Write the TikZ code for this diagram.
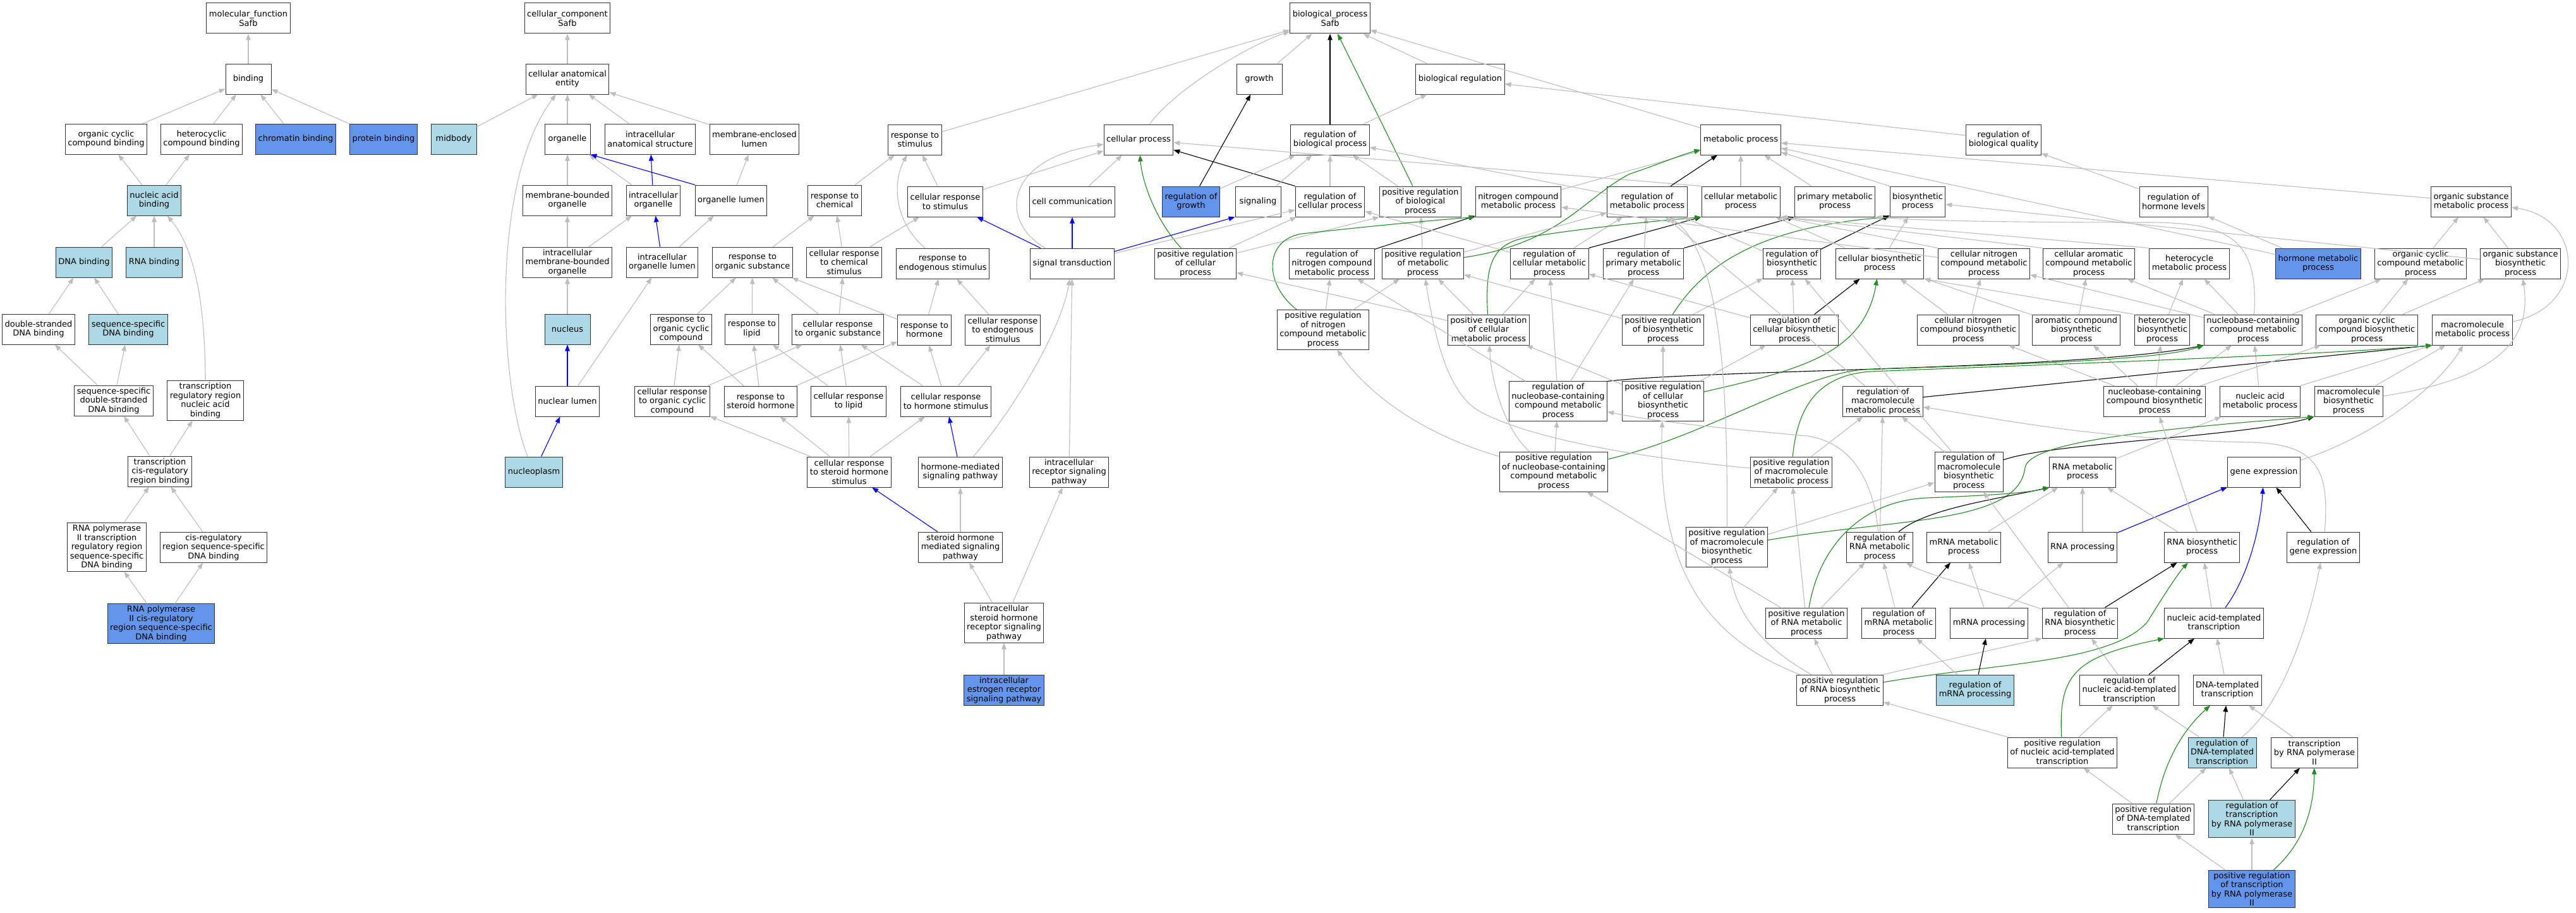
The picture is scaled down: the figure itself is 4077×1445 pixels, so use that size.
\documentclass[tikz,border=0pt]{standalone}
\usepackage{fontspec}
\setmainfont{DejaVu Sans}
\usetikzlibrary{arrows.meta}
\definecolor{isagray}{HTML}{BEBEBE}
\definecolor{posgreen}{HTML}{228B22}
\definecolor{lightblue}{HTML}{ADD8E6}
\definecolor{cornflower}{HTML}{6495ED}
\begin{document}
\begin{tikzpicture}[x=1pt, y=-1pt,
    font=\fontsize{13}{14.5}\selectfont,
    term/.style={draw=black!80, line width=1pt, fill=white, align=center,
        minimum width=72pt, minimum height=48pt, inner xsep=4pt, inner ysep=3pt},
    termlight/.style={term, fill=lightblue},
    termdark/.style={term, fill=cornflower},
    goedge/.style={line width=1.1pt, -{Triangle[length=10pt,width=7.5pt]}},
    isa/.style={goedge, draw=isagray},
    reg/.style={goedge, draw=black},
    partof/.style={goedge, draw=blue},
    posreg/.style={goedge, draw=posgreen}]
    \path[use as bounding box, fill=white] (0,0) rectangle (4077,1445);

    \node[term] (mf) at (393,29) {molecular\_function\\Safb};
    \node[term] (binding) at (393,125) {binding};
    \node[term] (occb) at (168,220) {organic cyclic\\compound binding};
    \node[term] (hcb) at (319,220) {heterocyclic\\compound binding};
    \node[termdark] (chromb) at (468,220) {chromatin binding};
    \node[termdark] (protb) at (607,220) {protein binding};
    \node[termlight] (nab) at (244,317) {nucleic acid\\binding};
    \node[termlight] (dnab) at (133,415) {DNA binding};
    \node[termlight] (rnab) at (244,415) {RNA binding};
    \node[term] (dsdnab) at (61,521) {double-stranded\\DNA binding};
    \node[termlight] (ssdnab) at (203,521) {sequence-specific\\DNA binding};
    \node[term] (ssdsb) at (180,634) {sequence-specific\\double-stranded\\DNA binding};
    \node[term] (trnab) at (325,634) {transcription\\regulatory region\\nucleic acid\\binding};
    \node[term] (tcrb) at (253,746) {transcription\\cis-regulatory\\region binding};
    \node[term] (rptrb) at (169,866) {RNA polymerase\\II transcription\\regulatory region\\sequence-specific\\DNA binding};
    \node[term] (crssb) at (338,866) {cis-regulatory\\region sequence-specific\\DNA binding};
    \node[termdark] (rpcrb) at (255,987) {RNA polymerase\\II cis-regulatory\\region sequence-specific\\DNA binding};

    \node[term] (cc) at (898,29) {cellular\_component\\Safb};
    \node[term] (cae) at (898,125) {cellular anatomical\\entity};
    \node[termlight] (midbody) at (718,220) {midbody};
    \node[term] (organelle) at (898,220) {organelle};
    \node[term] (ias) at (1029,220) {intracellular\\anatomical structure};
    \node[term] (mel) at (1194,220) {membrane-enclosed\\lumen};
    \node[term] (mbo) at (898,317) {membrane-bounded\\organelle};
    \node[term] (io) at (1034,317) {intracellular\\organelle};
    \node[term] (ol) at (1157,317) {organelle lumen};
    \node[term] (imbo) at (898,415) {intracellular\\membrane-bounded\\organelle};
    \node[term] (iol) at (1048,415) {intracellular\\organelle lumen};
    \node[termlight] (nucleus) at (898,521) {nucleus};
    \node[term] (nlumen) at (898,635) {nuclear lumen};
    \node[termlight] (nucleoplasm) at (845,747) {nucleoplasm};

    \node[term] (rtc) at (1321,317) {response to\\chemical};
    \node[term] (rtos) at (1191,415) {response to\\organic substance};
    \node[term] (crcs) at (1336,415) {cellular response\\to chemical\\stimulus};
    \node[term] (rtocc) at (1078,521) {response to\\organic cyclic\\compound};
    \node[term] (rtl) at (1190,521) {response to\\lipid};
    \node[term] (cros) at (1326,521) {cellular response\\to organic substance};
    \node[term] (crocc) at (1064,635) {cellular response\\to organic cyclic\\compound};
    \node[term] (rtsh) at (1204,635) {response to\\steroid hormone};
    \node[term] (crl) at (1343,635) {cellular response\\to lipid};
    \node[term] (crshs) at (1344,747) {cellular response\\to steroid hormone\\stimulus};
    \node[term] (rts) at (1448,221) {response to\\stimulus};
    \node[term] (cp) at (1802,221) {cellular process};
    \node[term] (growth) at (1993,125) {growth};
    \node[term] (bp) at (2105,29) {biological\_process\\Safb};
    \node[term] (crts) at (1496,319) {cellular response\\to stimulus};
    \node[term] (ccom) at (1697,319) {cell communication};
    \node[termdark] (rog) at (1885,319) {regulation of\\growth};
    \node[term] (signaling) at (1991,319) {signaling};
    \node[term] (rcp) at (2105,319) {regulation of\\cellular process};
    \node[term] (rtes) at (1492,417) {response to\\endogenous stimulus};
    \node[term] (st) at (1697,417) {signal transduction};
    \node[term] (prcp) at (1892,417) {positive regulation\\of cellular\\process};
    \node[term] (rth) at (1463,522) {response to\\hormone};
    \node[term] (cres) at (1587,522) {cellular response\\to endogenous\\stimulus};
    \node[term] (crhs) at (1497,635) {cellular response\\to hormone stimulus};
    \node[term] (hmsp) at (1520,747) {hormone-mediated\\signaling pathway};
    \node[term] (irsp) at (1692,747) {intracellular\\receptor signaling\\pathway};
    \node[term] (shmsp) at (1520,866) {steroid hormone\\mediated signaling\\pathway};
    \node[term] (ishrsp) at (1589,986) {intracellular\\steroid hormone\\receptor signaling\\pathway};
    \node[termdark] (iersp) at (1589,1092) {intracellular\\estrogen receptor\\signaling pathway};

    \node[term] (breg) at (2311,125) {biological regulation};
    \node[term] (rbp) at (2105,221) {regulation of\\biological process};
    \node[term] (mp) at (2755,221) {metabolic process};
    \node[term] (rbq) at (3171,221) {regulation of\\biological quality};
    \node[term] (prbp) at (2248,319) {positive regulation\\of biological\\process};
    \node[term] (ncmp) at (2403,319) {nitrogen compound\\metabolic process};
    \node[term] (rmp) at (2607,319) {regulation of\\metabolic process};
    \node[term] (cmp) at (2755,319) {cellular metabolic\\process};
    \node[term] (pmp) at (2904,319) {primary metabolic\\process};
    \node[term] (bsp) at (3035,319) {biosynthetic\\process};
    \node[term] (rhl) at (3440,319) {regulation of\\hormone levels};
    \node[term] (osmp) at (3911,319) {organic substance\\metabolic process};
    \node[term] (rncmp) at (2108,417) {regulation of\\nitrogen compound\\metabolic process};
    \node[term] (prmp) at (2252,417) {positive regulation\\of metabolic\\process};
    \node[term] (rcmp) at (2452,417) {regulation of\\cellular metabolic\\process};
    \node[term] (rpmp) at (2601,417) {regulation of\\primary metabolic\\process};
    \node[term] (rbsp) at (2836,417) {regulation of\\biosynthetic\\process};
    \node[term] (cbsp) at (2975,417) {cellular biosynthetic\\process};
    \node[term] (cncmp) at (3140,417) {cellular nitrogen\\compound metabolic\\process};
    \node[term] (camp) at (3306,417) {cellular aromatic\\compound metabolic\\process};
    \node[term] (hetmp) at (3465,417) {heterocycle\\metabolic process};
    \node[termdark] (hormmp) at (3669,417) {hormone metabolic\\process};
    \node[term] (occmp) at (3831,417) {organic cyclic\\compound metabolic\\process};
    \node[term] (osbsp) at (3989,417) {organic substance\\biosynthetic\\process};
    \node[term] (prncmp) at (2094,522) {positive regulation\\of nitrogen\\compound metabolic\\process};
    \node[term] (prcmp) at (2356,522) {positive regulation\\of cellular\\metabolic process};
    \node[term] (prbsp) at (2632,522) {positive regulation\\of biosynthetic\\process};
    \node[term] (rcbsp) at (2840,522) {regulation of\\cellular biosynthetic\\process};
    \node[term] (cncbsp) at (3115,522) {cellular nitrogen\\compound biosynthetic\\process};
    \node[term] (acbsp) at (3286,522) {aromatic compound\\biosynthetic\\process};
    \node[term] (hetbsp) at (3422,522) {heterocycle\\biosynthetic\\process};
    \node[term] (nccmp) at (3566,522) {nucleobase-containing\\compound metabolic\\process};
    \node[term] (occbsp) at (3746,522) {organic cyclic\\compound biosynthetic\\process};
    \node[term] (mmp) at (3913,522) {macromolecule\\metabolic process};
    \node[term] (rnccmp) at (2466,635) {regulation of\\nucleobase-containing\\compound metabolic\\process};
    \node[term] (prcbsp) at (2632,635) {positive regulation\\of cellular\\biosynthetic\\process};
    \node[term] (rmmp) at (2980,635) {regulation of\\macromolecule\\metabolic process};
    \node[term] (nccbsp) at (3410,635) {nucleobase-containing\\compound biosynthetic\\process};
    \node[term] (namp) at (3577,635) {nucleic acid\\metabolic process};
    \node[term] (mbsp) at (3717,635) {macromolecule\\biosynthetic\\process};
    \node[term] (prnccmp) at (2459,747) {positive regulation\\of nucleobase-containing\\compound metabolic\\process};
    \node[term] (prmmp) at (2835,747) {positive regulation\\of macromolecule\\metabolic process};
    \node[term] (rmbsp) at (3116,747) {regulation of\\macromolecule\\biosynthetic\\process};
    \node[term] (rnamp) at (3296,747) {RNA metabolic\\process};
    \node[term] (ge) at (3583,747) {gene expression};
    \node[term] (prmbsp) at (2733,866) {positive regulation\\of macromolecule\\biosynthetic\\process};
    \node[term] (rrnamp) at (2975,866) {regulation of\\RNA metabolic\\process};
    \node[term] (mrnamp) at (3108,866) {mRNA metabolic\\process};
    \node[term] (rnaproc) at (3296,866) {RNA processing};
    \node[term] (rnabsp) at (3485,866) {RNA biosynthetic\\process};
    \node[term] (rge) at (3677,866) {regulation of\\gene expression};
    \node[term] (prrnamp) at (2859,986) {positive regulation\\of RNA metabolic\\process};
    \node[term] (rmrnamp) at (3005,986) {regulation of\\mRNA metabolic\\process};
    \node[term] (mrnaproc) at (3148,986) {mRNA processing};
    \node[term] (rrnabsp) at (3292,986) {regulation of\\RNA biosynthetic\\process};
    \node[term] (natt) at (3504,986) {nucleic acid-templated\\transcription};
    \node[term] (prrnabsp) at (2912,1092) {positive regulation\\of RNA biosynthetic\\process};
    \node[termlight] (rmrnaproc) at (3126,1092) {regulation of\\mRNA processing};
    \node[term] (rnatt) at (3370,1092) {regulation of\\nucleic acid-templated\\transcription};
    \node[term] (dnatt) at (3525,1092) {DNA-templated\\transcription};
    \node[term] (prnatt) at (3264,1191) {positive regulation\\of nucleic acid-templated\\transcription};
    \node[termlight] (rdnatt) at (3517,1191) {regulation of\\DNA-templated\\transcription};
    \node[term] (trnap2) at (3663,1191) {transcription\\by RNA polymerase\\II};
    \node[term] (prdnatt) at (3408,1296) {positive regulation\\of DNA-templated\\transcription};
    \node[termlight] (rtrnap2) at (3564,1296) {regulation of\\transcription\\by RNA polymerase\\II};
    \node[termdark] (prtrnap2) at (3564,1407) {positive regulation\\of transcription\\by RNA polymerase\\II};

    \draw[isa] (binding) -- (mf);
    \draw[isa] (occb) -- (binding);
    \draw[isa] (hcb) -- (binding);
    \draw[isa] (chromb) -- (binding);
    \draw[isa] (protb) -- (binding);
    \draw[isa] (nab) -- (occb);
    \draw[isa] (nab) -- (hcb);
    \draw[isa] (dnab) -- (nab);
    \draw[isa] (rnab) -- (nab);
    \draw[isa] (trnab) .. controls (325,490) and (310,395) .. (nab);
    \draw[isa] (dsdnab) -- (dnab);
    \draw[isa] (ssdnab) -- (dnab);
    \draw[isa] (ssdsb) -- (dsdnab);
    \draw[isa] (ssdsb) -- (ssdnab);
    \draw[isa] (tcrb) -- (ssdsb);
    \draw[isa] (tcrb) -- (trnab);
    \draw[isa] (rptrb) -- (tcrb);
    \draw[isa] (crssb) -- (tcrb);
    \draw[isa] (rpcrb) -- (rptrb);
    \draw[isa] (rpcrb) -- (crssb);

    \draw[isa] (cae) -- (cc);
    \draw[isa] (midbody) -- (cae);
    \draw[isa] (organelle) -- (cae);
    \draw[isa] (ias) -- (cae);
    \draw[isa] (mel) -- (cae);
    \draw[isa] (nucleoplasm) .. controls (790,610) and (775,290) .. (cae);
    \draw[isa] (mbo) -- (organelle);
    \draw[isa] (io) -- (organelle);
    \draw[partof] (io) -- (ias);
    \draw[partof] (ol.north west) -- (organelle.south east);
    \draw[isa] (ol) -- (mel);
    \draw[isa] (imbo) -- (mbo);
    \draw[isa] (imbo) -- (io);
    \draw[partof] (iol) -- (io);
    \draw[isa] (iol) -- (ol);
    \draw[isa] (nucleus) -- (imbo);
    \draw[partof] (nlumen) -- (nucleus);
    \draw[isa] (nlumen) -- (iol);
    \draw[partof] (nucleoplasm) -- (nlumen);

    \draw[isa] (rts) -- (bp);
    \draw[isa] (cp) .. controls (1860,140) and (1980,70) .. (bp);
    \draw[isa] (growth) -- (bp);
    \draw[reg] (rbp) -- (bp);
    \draw[posreg] (prbp) -- (bp);
    \draw[isa] (breg) -- (bp);
    \draw[isa] (mp) -- (bp);
    \draw[isa] (rbq) -- (breg);
    \draw[isa] (rbp) -- (breg);
    \draw[isa] (rhl) -- (rbq);
    \draw[isa] (crts) -- (rts);
    \draw[isa] (rtc) -- (rts);
    \draw[isa] (rtes) .. controls (1415,350) and (1412,290) .. (rts);
    \draw[isa] (crts) -- (cp);
    \draw[isa] (st) .. controls (1580,350) and (1590,250) .. (cp);
    \draw[isa] (ccom) -- (cp);
    \draw[posreg] (prcp) .. controls (1830,350) and (1808,290) .. (cp);
    \draw[reg] (rcp.north west) -- (cp);
    \draw[isa] (cmp.north west) -- (cp);
    \draw[reg] (rog) -- (growth);
    \draw[isa] (rog) -- (rbp);
    \draw[isa] (signaling) -- (rbp);
    \draw[isa] (rcp) -- (rbp);
    \draw[isa] (prbp) -- (rbp);
    \draw[isa] (rmp) -- (rbp);
    \draw[partof] (st) -- (crts);
    \draw[partof] (st) -- (ccom);
    \draw[partof] (st) -- (signaling.south west);
    \draw[isa] (st) -- (rcp);
    \draw[isa] (prcp) -- (rcp);
    \draw[isa] (prcp) -- (prbp.south west);
    \draw[isa] (rtos) -- (rtc);
    \draw[isa] (crcs) -- (rtc);
    \draw[isa] (crcs) -- (crts);
    \draw[isa] (rtocc) -- (rtos);
    \draw[isa] (rtl) -- (rtos);
    \draw[isa] (cros) -- (rtos);
    \draw[isa] (rth) -- (rtos);
    \draw[isa] (cros) -- (crcs);
    \draw[isa] (rth) -- (rtes);
    \draw[isa] (cres) -- (rtes);
    \draw[isa] (crocc) -- (rtocc);
    \draw[isa] (crocc) -- (cros);
    \draw[isa] (rtsh) -- (rtocc);
    \draw[isa] (rtsh) -- (rtl);
    \draw[isa] (rtsh) -- (rth);
    \draw[isa] (crl) -- (rtl);
    \draw[isa] (crl) -- (cros);
    \draw[isa] (crshs) -- (crocc);
    \draw[isa] (crshs) -- (rtsh);
    \draw[isa] (crshs) -- (crl);
    \draw[isa] (crshs) -- (crhs);
    \draw[isa] (crhs) -- (cros);
    \draw[isa] (crhs) -- (rth);
    \draw[isa] (crhs) -- (cres);
    \draw[partof] (hmsp) -- (crhs);
    \draw[isa] (hmsp) .. controls (1610,640) and (1680,520) .. (st);
    \draw[isa] (irsp) -- (st);
    \draw[isa] (shmsp) -- (hmsp);
    \draw[partof] (shmsp) -- (crshs);
    \draw[isa] (ishrsp) -- (shmsp);
    \draw[isa] (ishrsp) -- (irsp);
    \draw[isa] (iersp) -- (ishrsp);

    \draw[isa] (cmp) -- (mp);
    \draw[isa] (pmp) -- (mp);
    \draw[isa] (bsp.north west) -- (mp);
    \draw[isa] (ncmp) -- (mp);
    \draw[reg] (rmp) -- (mp);
    \draw[isa] (osmp) -- (mp);
    \draw[isa] (hormmp) -- (mp);
    \draw[isa] (hormmp) -- (rhl);
    \draw[posreg] (prmp) .. controls (2470,385) and (2510,310) .. (2580,275) .. controls (2620,262) and (2660,245) .. (mp);
    \draw[isa] (prmp) -- (rmp);
    \draw[isa] (prmp) -- (prbp);
    \draw[reg] (rncmp) -- (ncmp);
    \draw[isa] (rcmp) -- (rmp);
    \draw[isa] (rcmp) -- (rcp);
    \draw[reg] (rcmp.north east) -- (cmp.south west);
    \draw[isa] (rpmp) -- (rmp);
    \draw[reg] (rpmp.north east) -- (pmp.south west);
    \draw[posreg] (prncmp) .. controls (2000,450) and (2000,380) .. (2060,370) .. controls (2150,360) and (2250,350) .. (ncmp.south west);
    \draw[isa] (prncmp) -- (rncmp);
    \draw[isa] (prncmp) -- (prmp);
    \draw[posreg] (prcmp) .. controls (2350,420) and (2360,385) .. (2420,375) .. controls (2530,358) and (2620,350) .. (cmp.south west);
    \draw[isa] (prcmp) -- (prmp);
    \draw[isa] (prcmp) -- (rcmp);
    \draw[isa] (prcmp) -- (prcp);
    \draw[posreg] (prbsp) .. controls (2690,430) and (2770,360) .. (bsp.south west);
    \draw[isa] (prbsp) -- (rbsp);
    \draw[isa] (prbsp) -- (prmp);
    \draw[reg] (rbsp) -- (bsp);
    \draw[isa] (rbsp) -- (rmp);
    \draw[isa] (cbsp) -- (bsp);
    \draw[isa] (cbsp) -- (cmp);
    \draw[isa] (cncmp) -- (ncmp);
    \draw[isa] (cncmp.north west) -- (cmp.south east);
    \draw[isa] (camp.north west) -- (cmp.south east);
    \draw[isa] (hetmp.north west) -- (cmp.south east);
    \draw[isa] (occmp) -- (osmp);
    \draw[isa] (osbsp) -- (osmp);
    \draw[isa] (osbsp) -- (bsp);
    \draw[reg] (rcbsp) -- (cbsp);
    \draw[isa] (rcbsp) -- (rbsp);
    \draw[isa] (rcbsp) -- (rcmp);
    \draw[isa] (cncbsp) -- (cncmp);
    \draw[isa] (cncbsp) -- (cbsp);
    \draw[isa] (acbsp) -- (camp);
    \draw[isa] (acbsp) -- (cbsp);
    \draw[isa] (hetbsp) -- (hetmp);
    \draw[isa] (hetbsp.north west) -- (cbsp.south east);
    \draw[isa] (nccmp) -- (hetmp);
    \draw[isa] (nccmp) -- (occmp);
    \draw[isa] (nccmp) -- (camp);
    \draw[isa] (nccmp) -- (cncmp);
    \draw[isa] (nccmp) .. controls (3575,380) and (3530,352) .. (3400,352) .. controls (3200,352) and (3050,350) .. (pmp.south east);
    \draw[isa] (occbsp) -- (occmp);
    \draw[isa] (occbsp) -- (osbsp);
    \draw[isa] (mmp) .. controls (4095,485) and (4090,345) .. (osmp);
    \draw[isa] (rnccmp) -- (rncmp);
    \draw[isa] (rnccmp) -- (rcmp);
    \draw[isa] (rnccmp) -- (rpmp);
    \draw[reg] (rnccmp.north east) .. controls (2700,585) and (3300,585) .. (nccmp.south west);
    \draw[isa] (prcbsp) -- (prbsp);
    \draw[isa] (prcbsp) -- (prcmp);
    \draw[isa] (prcbsp) -- (rcbsp);
    \draw[posreg] (prcbsp) .. controls (2850,585) and (2950,560) .. (cbsp);
    \draw[isa] (rmmp) -- (rmp);
    \draw[reg] (rmmp) -- (mmp.south west);
    \draw[isa] (nccbsp) -- (nccmp);
    \draw[isa] (nccbsp) -- (hetbsp);
    \draw[isa] (nccbsp) -- (occbsp);
    \draw[isa] (nccbsp) -- (cncbsp);
    \draw[isa] (nccbsp) -- (acbsp);
    \draw[isa] (namp) -- (nccmp);
    \draw[isa] (namp.north east) -- (mmp.south west);
    \draw[isa] (mbsp) -- (mmp);
    \draw[isa] (mbsp) .. controls (3950,600) and (4008,540) .. (osbsp);
    \draw[isa] (prnccmp) -- (rnccmp);
    \draw[isa] (prnccmp) .. controls (2260,690) and (2170,630) .. (prncmp);
    \draw[isa] (prnccmp) .. controls (2380,680) and (2360,600) .. (prcmp);
    \draw[posreg] (prnccmp) .. controls (2700,690) and (2850,592) .. (2950,585) .. controls (3200,576) and (3420,570) .. (nccmp.south west);
    \draw[isa] (prmmp) -- (rmmp);
    \draw[isa] (prmmp) .. controls (2600,725) and (2420,695) .. (2340,650) .. controls (2290,620) and (2270,530) .. (prmp);
    \draw[posreg] (prmmp) .. controls (2845,640) and (2880,594) .. (2960,588) .. controls (3300,575) and (3700,560) .. (mmp.south west);
    \draw[isa] (rmbsp) -- (rmmp);
    \draw[isa] (rmbsp) -- (rbsp);
    \draw[reg] (rmbsp) .. controls (3250,700) and (3550,692) .. (mbsp.south west);
    \draw[isa] (rnamp) -- (namp);
    \draw[isa] (ge) .. controls (3760,690) and (3860,610) .. (mmp);
    \draw[isa] (prmbsp) .. controls (2735,600) and (2722,400) .. (rmp);
    \draw[isa] (prmbsp) -- (prmmp);
    \draw[isa] (prmbsp) -- (rmbsp);
    \draw[posreg] (prmbsp) .. controls (3000,820) and (3195,830) .. (3205,740) .. controls (3212,700) and (3400,680) .. (mbsp.south west);
    \draw[isa] (rrnamp) -- (rmmp);
    \draw[isa] (rrnamp) .. controls (2965,760) and (2930,700) .. (2860,690) .. controls (2750,680) and (2620,668) .. (rnccmp);
    \draw[reg] (rrnamp) .. controls (3050,805) and (3150,792) .. (rnamp.south west);
    \draw[isa] (mrnamp) -- (rnamp);
    \draw[isa] (rnaproc) -- (rnamp);
    \draw[partof] (rnaproc) -- (ge);
    \draw[isa] (rnabsp) -- (rnamp);
    \draw[isa] (rnabsp) -- (nccbsp);
    \draw[reg] (rge) -- (ge);
    \draw[isa] (rge) .. controls (3688,740) and (3665,702) .. (3560,700) .. controls (3300,695) and (3150,660) .. (rmmp);
    \draw[isa] (prrnamp) -- (rrnamp);
    \draw[isa] (prrnamp) -- (prmmp);
    \draw[isa] (prrnamp) -- (prnccmp);
    \draw[posreg] (prrnamp) .. controls (2880,860) and (2950,792) .. (3050,788) .. controls (3150,784) and (3210,780) .. (rnamp.south west);
    \draw[isa] (rmrnamp) -- (rrnamp);
    \draw[reg] (rmrnamp) -- (mrnamp);
    \draw[isa] (mrnaproc) -- (mrnamp);
    \draw[isa] (mrnaproc) -- (rnaproc);
    \draw[isa] (rrnabsp) .. controls (3150,935) and (3050,910) .. (rrnamp);
    \draw[isa] (rrnabsp) -- (rmbsp);
    \draw[reg] (rrnabsp) -- (rnabsp);
    \draw[isa] (natt) -- (rnabsp);
    \draw[partof] (natt) .. controls (3560,910) and (3578,830) .. (ge);
    \draw[isa] (prrnabsp) -- (prrnamp);
    \draw[isa] (prrnabsp.north east) -- (rrnabsp.south west);
    \draw[isa] (prrnabsp) .. controls (2700,1010) and (2622,900) .. (prcbsp);
    \draw[isa] (prrnabsp) .. controls (2780,1020) and (2745,960) .. (prmbsp);
    \draw[posreg] (prrnabsp) .. controls (3150,1050) and (3340,1050) .. (3398,985) .. controls (3420,950) and (3445,910) .. (rnabsp);
    \draw[isa] (rmrnaproc) -- (rmrnamp);
    \draw[reg] (rmrnaproc) -- (mrnaproc);
    \draw[isa] (rnatt) -- (rrnabsp);
    \draw[reg] (rnatt) -- (natt);
    \draw[isa] (dnatt) -- (natt);
    \draw[isa] (prnatt) -- (prrnabsp);
    \draw[isa] (prnatt) -- (rnatt);
    \draw[posreg] (prnatt) .. controls (3258,1070) and (3280,1040) .. (natt.south west);
    \draw[isa] (rdnatt) -- (rnatt);
    \draw[reg] (rdnatt) -- (dnatt);
    \draw[isa] (rdnatt) .. controls (3620,1110) and (3660,960) .. (rge);
    \draw[isa] (trnap2) -- (dnatt);
    \draw[isa] (prdnatt) -- (rdnatt);
    \draw[isa] (prdnatt) -- (prnatt);
    \draw[posreg] (prdnatt) .. controls (3425,1210) and (3450,1160) .. (dnatt);
    \draw[isa] (rtrnap2) -- (rdnatt);
    \draw[reg] (rtrnap2) -- (trnap2);
    \draw[isa] (prtrnap2) -- (prdnatt);
    \draw[isa] (prtrnap2) -- (rtrnap2);
    \draw[posreg] (prtrnap2) .. controls (3640,1340) and (3662,1290) .. (trnap2);
\end{tikzpicture}
\end{document}
